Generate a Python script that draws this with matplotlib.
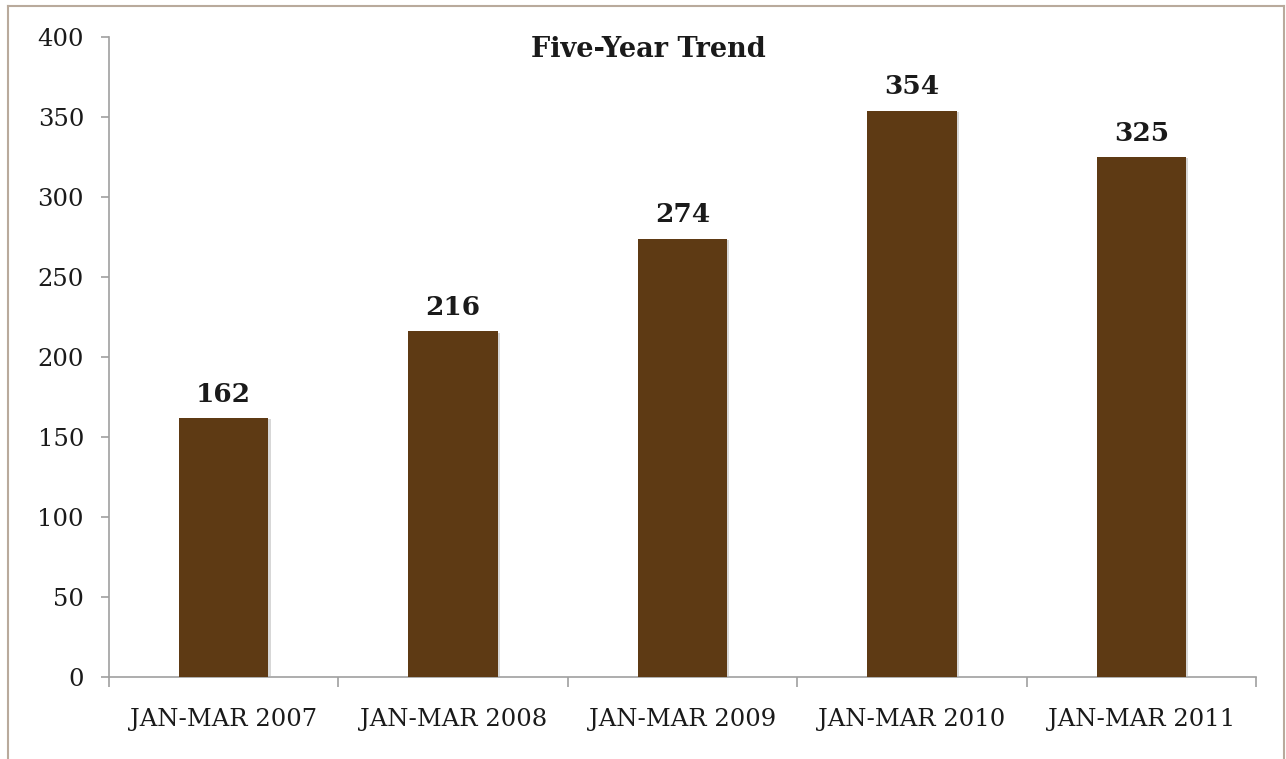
import matplotlib
matplotlib.use("Agg")
import matplotlib.pyplot as plt
from matplotlib.lines import Line2D
import matplotlib.patheffects as pe

categories = ["JAN-MAR 2007", "JAN-MAR 2008", "JAN-MAR 2009", "JAN-MAR 2010", "JAN-MAR 2011"]
values = [162, 216, 274, 354, 325]
title = "Five-Year Trend"

plt.rcParams['font.family'] = ['DejaVu Serif']

fig = plt.figure(figsize=(12.86, 7.59), dpi=100)
ax = fig.add_axes([109/1286, 1-677/759, (1256-109)/1286, (677-37)/759])

x = list(range(len(categories)))
bars = ax.bar(x, values, width=0.39, color="#5e3a14", zorder=3,
              path_effects=[pe.SimplePatchShadow(offset=(1.5, -1.0), shadow_rgbFace="#b0b0b0", alpha=0.5), pe.Normal()])

for xi, v in zip(x, values):
    ax.annotate(str(v), (xi, v), xytext=(0, 8), textcoords="offset points",
                ha="center", va="bottom", fontsize=19, fontweight="bold", color="#1a1a1a")

ax.set_xlim(-0.5, len(categories) - 0.5)
ax.set_ylim(0, 400)
ax.set_yticks(range(0, 401, 50))
ax.set_xticks([i - 0.5 for i in range(len(categories) + 1)], minor=False)
ax.set_xticklabels([])
ax.set_xticks(x, minor=True)
ax.set_xticklabels(categories, minor=True)
ax.tick_params(axis="x", which="major", length=7, color="#a0a0a0", width=1.2, direction="out")
ax.tick_params(axis="x", which="minor", length=0, pad=22, labelsize=17.5, labelcolor="#1a1a1a")
ax.tick_params(axis="y", length=6, color="#a0a0a0", width=1.2, direction="out", pad=12,
               labelsize=17.5, labelcolor="#1a1a1a")

for s in ["top", "right"]:
    ax.spines[s].set_visible(False)
for s in ["left", "bottom"]:
    ax.spines[s].set_color("#a0a0a0")
    ax.spines[s].set_linewidth(1.2)

ax.text(0.47, 1.002, title, transform=ax.transAxes, ha="center", va="top",
        fontsize=19.5, fontweight="bold", color="#1a1a1a")

# outer border
bc = "#b9aa9c"
W, H = 1286, 759
fig.add_artist(Line2D([8/W, 8/W], [0, 1-6/H], color=bc, lw=1.5, transform=fig.transFigure))
fig.add_artist(Line2D([8/W, 1284/W], [1-6/H, 1-6/H], color=bc, lw=1.5, transform=fig.transFigure))
fig.add_artist(Line2D([1284/W, 1284/W], [0, 1-6/H], color=bc, lw=1.5, transform=fig.transFigure))

fig.savefig("out.png", dpi=100)
